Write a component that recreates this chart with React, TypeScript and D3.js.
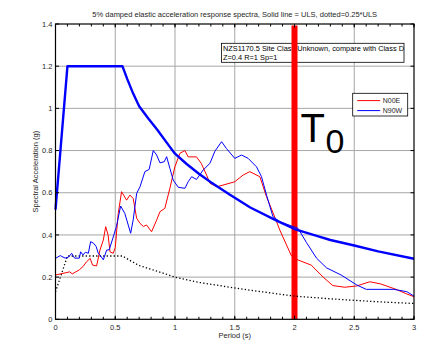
import React from "react";
import * as d3 from "d3";

const title = "5% damped elastic acceleration response spectra, Solid line = ULS, dotted=0.25*ULS";
const xLabel = "Period (s)";
const yLabel = "Spectral Acceleration (g)";
const xTicks = [0, 0.5, 1, 1.5, 2, 2.5, 3];
const xTickLabels = ["0", "0.5", "1", "1.5", "2", "2.5", "3"];
const yTicks = [0, 0.2, 0.4, 0.6, 0.8, 1, 1.2, 1.4];
const yTickLabels = ["0", "0.2", "0.4", "0.6", "0.8", "1", "1.2", "1.4"];
const annotationLines = ["NZS1170.5 Site Class Unknown, compare with Class D", "Z=0.4 R=1 Sp=1"];
const legendNames = ["N00E", "N90W"];
const t0Period = 2;

// ULS design spectrum (thick blue)
const ulsT = [0, 0.1, 0.56, 0.6, 0.65, 0.7, 0.78, 0.85, 0.96, 1.0, 1.1, 1.2, 1.3, 1.46, 1.63, 1.85, 2.0, 2.2, 2.3, 2.5, 2.7, 3.0];
const ulsSa = [0.52, 1.2, 1.2, 1.14, 1.07, 1.01, 0.95, 0.9, 0.815, 0.785, 0.735, 0.69, 0.65, 0.59, 0.53, 0.468, 0.428, 0.393, 0.376, 0.35, 0.322, 0.287];

// 0.25*ULS (dotted)
const quarterT = [0, 0.1, 0.56, 0.62, 0.7, 0.85, 1.0, 1.2, 1.46, 1.63, 1.85, 2.0, 2.3, 2.5, 2.7, 3.0];
const quarterSa = [0.13, 0.3, 0.3, 0.28, 0.255, 0.228, 0.2, 0.175, 0.152, 0.138, 0.121, 0.11, 0.097, 0.09, 0.083, 0.075];

// N00E (thin red)
const n00eT = [0, 0.04, 0.08, 0.12, 0.14, 0.17, 0.2, 0.23, 0.26, 0.29, 0.31, 0.344, 0.372, 0.4, 0.42, 0.44, 0.456, 0.483, 0.5, 0.525, 0.553, 0.595, 0.623, 0.65, 0.679, 0.707, 0.735, 0.762, 0.804, 0.846, 0.874, 0.915, 0.957, 0.999, 1.041, 1.083, 1.11, 1.18, 1.22, 1.264, 1.292, 1.35, 1.5, 1.57, 1.626, 1.71, 1.766, 1.85, 1.877, 1.975, 2.03, 2.14, 2.24, 2.32, 2.42, 2.52, 2.63, 2.72, 2.85, 2.94, 3.0];
const n00eSa = [0.21, 0.215, 0.22, 0.225, 0.215, 0.225, 0.235, 0.25, 0.273, 0.289, 0.257, 0.253, 0.328, 0.376, 0.439, 0.4, 0.32, 0.313, 0.34, 0.502, 0.605, 0.565, 0.589, 0.573, 0.479, 0.455, 0.44, 0.447, 0.415, 0.47, 0.51, 0.526, 0.621, 0.723, 0.787, 0.8, 0.77, 0.77, 0.739, 0.684, 0.645, 0.628, 0.652, 0.684, 0.7, 0.676, 0.581, 0.463, 0.423, 0.3, 0.281, 0.257, 0.2, 0.16, 0.152, 0.158, 0.178, 0.168, 0.142, 0.12, 0.107];

// N90W (thin blue)
const n90wT = [0, 0.04, 0.08, 0.11, 0.135, 0.16, 0.2, 0.21, 0.23, 0.25, 0.275, 0.294, 0.32, 0.34, 0.358, 0.372, 0.4, 0.428, 0.45, 0.483, 0.51, 0.545, 0.58, 0.629, 0.65, 0.679, 0.707, 0.748, 0.784, 0.818, 0.846, 0.874, 0.91, 0.93, 0.957, 0.985, 1.027, 1.083, 1.11, 1.139, 1.18, 1.236, 1.292, 1.334, 1.39, 1.43, 1.5, 1.557, 1.612, 1.682, 1.724, 1.766, 1.82, 1.877, 2.03, 2.1, 2.184, 2.268, 2.39, 2.52, 2.6, 2.74, 2.83, 2.94, 3.0];
const n90wSa = [0.289, 0.302, 0.29, 0.295, 0.313, 0.29, 0.29, 0.32, 0.305, 0.318, 0.313, 0.368, 0.36, 0.345, 0.313, 0.305, 0.282, 0.328, 0.33, 0.39, 0.44, 0.537, 0.502, 0.408, 0.471, 0.597, 0.628, 0.7, 0.711, 0.8, 0.779, 0.742, 0.747, 0.771, 0.716, 0.66, 0.626, 0.621, 0.652, 0.676, 0.663, 0.708, 0.739, 0.797, 0.842, 0.81, 0.763, 0.779, 0.763, 0.723, 0.676, 0.589, 0.486, 0.463, 0.431, 0.364, 0.29, 0.244, 0.21, 0.163, 0.142, 0.142, 0.142, 0.131, 0.11];

const FONT = "'Liberation Sans', Arial, sans-serif";
const TXT = "#262626";

export default function App() {
  const W = 424, H = 341;
  const left = 55.5, right = 414, top = 24, bottom = 319.3;
  const x = d3.scaleLinear().domain([0, 3]).range([left, right]);
  const y = d3.scaleLinear().domain([0, 1.4]).range([bottom, top]);
  const line = d3.line<[number, number]>().x(d => x(d[0])).y(d => y(d[1]));
  const pts = (t: number[], s: number[]) => t.map((v, i) => [v, s[i]] as [number, number]);
  const minorX = d3.range(0, 31).map(i => i / 10);

  const boxX = 221.5, boxY = 43.3, boxW = 182.5, boxH = 19;
  const legX = 352.7, legY = 93.3, legW = 55, legH = 22.7;
  const legColors = ["#ff0000", "#0000ff"];

  return (
    <svg width={W} height={H} style={{ position: "absolute", left: 0, top: 0 }} fontFamily={FONT}>
      <rect x={0} y={0} width={W} height={H} fill="#fff" />
      <rect x={left} y={top} width={right - left} height={bottom - top} fill="#fff" />
      {/* grid */}
      {xTicks.slice(1, -1).map(t => (
        <line key={"gx" + t} x1={x(t)} x2={x(t)} y1={top} y2={bottom} stroke="#a6a6a6" strokeWidth={1} />
      ))}
      {yTicks.slice(1, -1).map(t => (
        <line key={"gy" + t} x1={left} x2={right} y1={y(t)} y2={y(t)} stroke="#a6a6a6" strokeWidth={1} />
      ))}
      {/* annotation box */}
      <rect x={boxX} y={boxY} width={boxW} height={boxH} fill="#fff" stroke="#000" strokeWidth={0.8} />
      {annotationLines.map((s, i) => (
        <text key={s} x={boxX + 1.5} y={boxY + 8 + i * 8.3} fontSize={7.4} fill="#000">{s}</text>
      ))}
      {/* T0 bar */}
      <line x1={x(t0Period)} x2={x(t0Period)} y1={top + 1.5} y2={bottom} stroke="#ff0000" strokeWidth={6} />
      {/* curves */}
      <path d={line(pts(quarterT, quarterSa)) || ""} fill="none" stroke="#000" strokeWidth={1.3} strokeDasharray="1.3,2.2" />
      <path d={line(pts(n00eT, n00eSa)) || ""} fill="none" stroke="#ff0000" strokeWidth={1} />
      <path d={line(pts(n90wT, n90wSa)) || ""} fill="none" stroke="#0000ff" strokeWidth={1} />
      <path d={line(pts(ulsT, ulsSa)) || ""} fill="none" stroke="#0000ff" strokeWidth={2.4} strokeLinejoin="round" />
      {/* axes box */}
      <rect x={left} y={top} width={right - left} height={bottom - top} fill="none" stroke="#000" strokeWidth={1.2} />
      {/* x ticks (minor + major), bottom and top */}
      {minorX.map(t => (
        <g key={"mx" + t}>
          <line x1={x(t)} x2={x(t)} y1={bottom} y2={bottom - 2.5} stroke="#000" strokeWidth={1} />
          <line x1={x(t)} x2={x(t)} y1={top} y2={top + 2.5} stroke="#000" strokeWidth={1} />
        </g>
      ))}
      {xTicks.map(t => (
        <g key={"Mx" + t}>
          <line x1={x(t)} x2={x(t)} y1={bottom} y2={bottom - 3.5} stroke="#000" strokeWidth={1} />
          <line x1={x(t)} x2={x(t)} y1={top} y2={top + 3.5} stroke="#000" strokeWidth={1} />
        </g>
      ))}
      {yTicks.map(t => (
        <g key={"My" + t}>
          <line x1={left} x2={left + 3.5} y1={y(t)} y2={y(t)} stroke="#000" strokeWidth={1} />
          <line x1={right} x2={right - 3.5} y1={y(t)} y2={y(t)} stroke="#000" strokeWidth={1} />
        </g>
      ))}
      {/* tick labels */}
      {xTicks.map((t, i) => (
        <text key={"lx" + t} x={x(t)} y={bottom + 10.5} fontSize={7.5} fill={TXT} textAnchor="middle">{xTickLabels[i]}</text>
      ))}
      {yTicks.map((t, i) => (
        <text key={"ly" + t} x={left - 3} y={y(t) + 2.7} fontSize={7.5} fill={TXT} textAnchor="end">{yTickLabels[i]}</text>
      ))}
      {/* labels */}
      <text x={(left + right) / 2} y={17} fontSize={7.5} fill={TXT} textAnchor="middle">{title}</text>
      <text x={(left + right) / 2} y={338} fontSize={7.5} fill={TXT} textAnchor="middle">{xLabel}</text>
      <text transform={`translate(37.5,${(top + bottom) / 2}) rotate(-90)`} fontSize={7.5} fill={TXT} textAnchor="middle">{yLabel}</text>
      {/* legend */}
      <rect x={legX} y={legY} width={legW} height={legH} fill="#fff" stroke="#000" strokeWidth={0.8} />
      {legendNames.map((n, i) => (
        <g key={n}>
          <line x1={legX + 4.5} x2={legX + 27.5} y1={legY + 7.3 + i * 10} y2={legY + 7.3 + i * 10} stroke={legColors[i]} strokeWidth={1} />
          <text x={legX + 30} y={legY + 9.8 + i * 10} fontSize={7} fill={TXT}>{n}</text>
        </g>
      ))}
      {/* T0 label */}
      <text x={300.5} y={141.7} fontSize={40} fill="#000">T</text>
      <text x={325.5} y={153.3} fontSize={34} fill="#000">0</text>
    </svg>
  );
}
